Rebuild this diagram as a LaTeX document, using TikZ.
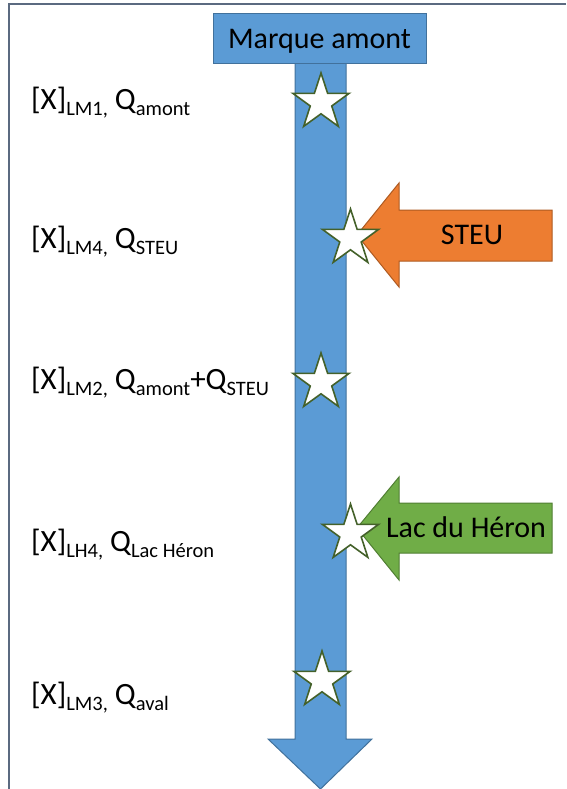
\documentclass[tikz,border=0pt]{standalone}
\usepackage{fontspec}
\setmainfont{Carlito}
\definecolor{ablue}{HTML}{5B9BD5}
\definecolor{ablueb}{HTML}{41719C}
\definecolor{aorange}{HTML}{ED7D31}
\definecolor{aorangeb}{HTML}{AE5A21}
\definecolor{agreen}{HTML}{70AD47}
\definecolor{agreenb}{HTML}{507E32}
\definecolor{starline}{HTML}{44612A}
\definecolor{framecol}{HTML}{5B6A80}
\newcommand{\sbs}[1]{\raisebox{-6pt}{\fontsize{20.5}{21}\selectfont #1}}
\begin{document}
\begin{tikzpicture}[x=1pt,y=-1pt,
  frameline/.style={draw=framecol, line width=2pt},
  bluesh/.style={fill=ablue, draw=ablueb, line width=1pt},
  orangesh/.style={fill=aorange, draw=aorangeb, line width=1pt},
  greensh/.style={fill=agreen, draw=agreenb, line width=1pt},
  starsty/.style={fill=white, draw=starline, line width=1.6pt, line join=miter},
  bigtext/.style={font=\fontsize{30}{36}\selectfont, text=black, inner sep=0pt},
  lbl/.style={font=\fontsize{31}{36}\selectfont, text=black, inner sep=0pt, anchor=base west},
  pics/fivestar/.style={code={
    \draw[starsty] (-90:29.5) \foreach \a in {1,...,9}{ -- ({-90+36*\a}:{ifthenelse(mod(\a,2)==1,11.3,29.5)})} -- cycle;}}
]
\useasboundingbox (0,0) rectangle (566,789);
% frame
\coordinate (fa) at (566,4.5);
\coordinate (fb) at (8.5,4.5);
\coordinate (fc) at (8.5,789);
\draw[frameline] (fa) -- (fb) -- (fc);

% main blue arrow
\draw[bluesh] (295,40) -- (346,40) -- (346,739) -- (372,739) -- (320.5,789) -- (268,739) -- (295,739) -- cycle;
\node[bluesh, bigtext, minimum width=213pt, minimum height=50pt, text height=19pt, text depth=0pt] (top) at (319.5,39) {Marque amont};

% side arrows
\draw[orangesh] (552,210) -- (399,210) -- (399,183) -- (357,235) -- (399,287) -- (399,261) -- (552,261) -- cycle;
\node[bigtext, anchor=base] (steu) at (472,244) {STEU};
\draw[greensh] (552,503) -- (399,503) -- (399,477) -- (357,528) -- (399,580) -- (399,553) -- (552,553) -- cycle;
\node[bigtext, anchor=base] (lac) at (466,537) {Lac du Héron};

% stars
\coordinate (st1) at (321,102.5);
\coordinate (st2) at (350.5,238.5);
\coordinate (st3) at (321,382.5);
\coordinate (st4) at (350.5,533.5);
\coordinate (st5) at (322,680.5);
\foreach \s in {st1,st2,st3,st4,st5} { \pic at (\s) {fivestar}; }

% labels
\node[lbl] (l1) at (31,110) {[X]\sbs{LM1,} Q\sbs{amont}};
\node[lbl] (l2) at (31,248) {[X]\sbs{LM4,} Q\sbs{STEU}};
\node[lbl] (l3) at (31,389) {[X]\sbs{LM2,} Q\sbs{amont}+Q\sbs{STEU}};
\node[lbl] (l4) at (31,551) {[X]\sbs{LH4,} Q\sbs{Lac Héron}};
\node[lbl] (l5) at (31,704) {[X]\sbs{LM3,} Q\sbs{aval}};
\end{tikzpicture}
\end{document}
